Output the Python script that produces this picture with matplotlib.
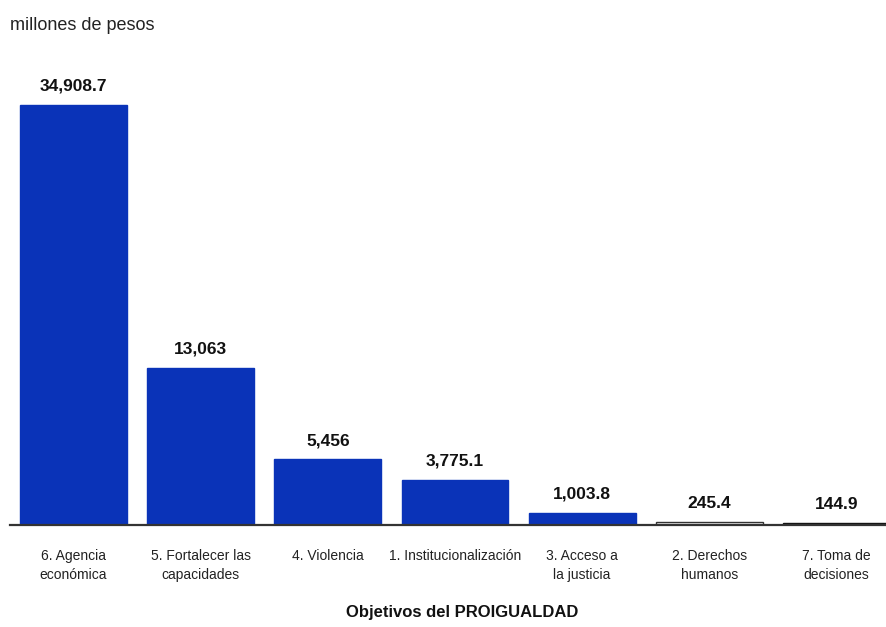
import matplotlib
matplotlib.use("Agg")
import matplotlib.pyplot as plt

categories = ["6. Agencia\neconómica", "5. Fortalecer las\ncapacidades", "4. Violencia",
              "1. Institucionalización", "3. Acceso a\nla justicia", "2. Derechos\nhumanos",
              "7. Toma de\ndecisiones"]
values = [34908.7, 13063, 5456, 3775.1, 1003.8, 245.4, 144.9]
value_labels = ["34,908.7", "13,063", "5,456", "3,775.1", "1,003.8", "245.4", "144.9"]

plt.rcParams['font.family'] = ['Liberation Sans', 'DejaVu Sans']

fig = plt.figure(figsize=(8.86, 6.27), dpi=100)
ax = fig.add_axes([10/886, 1-525/627, 876/886, (525-80)/627])

colors = ["#0a33b8"] * 5 + ["#f4f4f4", "#111111"]
edges = ["#0a33b8"] * 5 + ["#333333", "#111111"]
x = list(range(len(values)))
ax.bar(x, values, width=0.84, color=colors, edgecolor=edges, linewidth=1)
for xi, v, lab in zip(x, values, value_labels):
    ax.annotate(lab, (xi, v), xytext=(0, 8), textcoords="offset points",
                ha="center", va="bottom", fontsize=12.5, fontweight="bold", color="#111111")

ax.set_xlim(-0.5, 6.39)
ax.set_ylim(0, 36987)
ax.set_yticks([])
ax.set_xticks(x)
ax.set_xticklabels(categories, fontsize=10, color="#222222", linespacing=1.45)
ax.tick_params(axis="x", length=0, pad=17)
for s in ["top", "right", "left"]:
    ax.spines[s].set_visible(False)
ax.spines["bottom"].set_color("#333333")
ax.spines["bottom"].set_linewidth(1.6)

fig.text(10/886, 1-26/627, "millones de pesos", fontsize=13, color="#222222",
         ha="left", va="center")
fig.text(462/886, 1-613/627, "Objetivos del PROIGUALDAD", fontsize=12, fontweight="bold",
         color="#111111", ha="center", va="center")

fig.savefig("out.png", dpi=100)
